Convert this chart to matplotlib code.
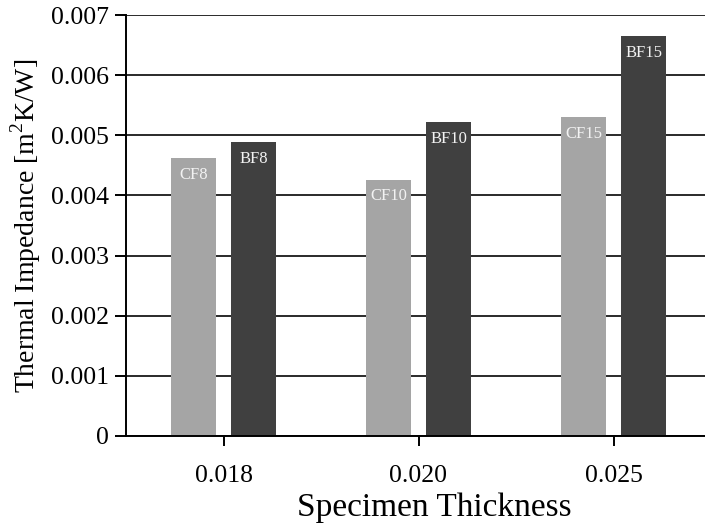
import matplotlib
matplotlib.use('Agg')
import matplotlib.pyplot as plt
import numpy as np

plt.rcParams['font.family'] = ['Liberation Serif', 'DejaVu Serif']
plt.rcParams['mathtext.fontset'] = 'custom'
plt.rcParams['mathtext.rm'] = 'Liberation Serif'

# 데이터
thickness = ['0.018', '0.020', '0.025']
cf_labels = ['CF8', 'CF10', 'CF15']
bf_labels = ['BF8', 'BF10', 'BF15']
cf_values = [0.00462, 0.00426, 0.00530]
bf_values = [0.00489, 0.00522, 0.00665]
y_ticks = [0, 0.001, 0.002, 0.003, 0.004, 0.005, 0.006, 0.007]

fig = plt.figure(figsize=(7.05, 5.26), dpi=100)
ax = fig.add_axes([126 / 705, 90 / 526, 585 / 705, 421 / 526])

x = np.arange(len(thickness))
w = 0.23
off = 0.154

ax.grid(axis='y', color='#2a2a2a', linewidth=1.4, zorder=0)
b1 = ax.bar(x - off, cf_values, w, color='#a5a5a5', zorder=2)
b2 = ax.bar(x + off, bf_values, w, color='#404040', zorder=2)

# 막대 안쪽 라벨
for bars, labels in [(b1, cf_labels), (b2, bf_labels)]:
    for bar, lab in zip(bars, labels):
        ax.annotate(lab, (bar.get_x() + bar.get_width() / 2, bar.get_height()),
                    xytext=(0, -12), textcoords='offset points',
                    ha='center', va='center', color='#f2f2f2', fontsize=12, zorder=3)

ax.set_xlim(-0.5, 2.5)
ax.set_ylim(0, 0.007)
ax.set_yticks(y_ticks)
ax.set_yticklabels(['0'] + ['%.3f' % v for v in y_ticks[1:]])
ax.set_xticks(x)
ax.set_xticklabels(thickness)

for s in ['top', 'right']:
    ax.spines[s].set_visible(False)
ax.spines['left'].set_linewidth(1.4)
ax.spines['bottom'].set_linewidth(1.4)

ax.tick_params(axis='y', direction='out', length=8, width=1.4, labelsize=18.5, pad=4)
ax.tick_params(axis='x', direction='out', length=7, width=1.4, labelsize=18.5, pad=14)

ax.set_xlabel('Specimen Thickness', fontsize=24, labelpad=4)
ax.xaxis.label.set_x(0.527)
ax.set_ylabel('Thermal Impedance [m$^2$K/W]', fontsize=20, labelpad=6)

fig.savefig('out.png', dpi=100)
